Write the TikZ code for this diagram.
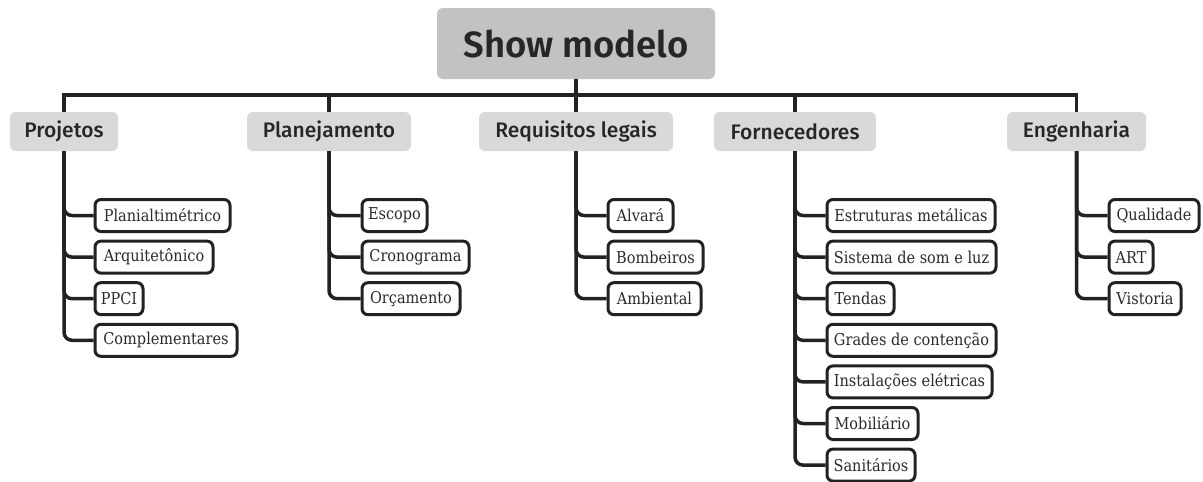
\documentclass[tikz,border=0pt]{standalone}
\usepackage{fontspec}
\newfontfamily\rootfont{Fira Sans}[UprightFont={* SemiBold}]
\newfontfamily\catfont{Fira Sans}[UprightFont={* Medium}]
\newfontfamily\leaffont{DejaVu Serif}[FakeStretch=0.89]
\definecolor{rootgray}{HTML}{C2C2C2}
\definecolor{catgray}{HTML}{D9D9D9}
\definecolor{inkdark}{HTML}{222222}
\definecolor{textdark}{HTML}{262626}
\definecolor{leaftext}{HTML}{2A2A2A}
\tikzset{
  rootbox/.style={fill=rootgray, rounded corners=6pt, minimum width=278pt,
    minimum height=71pt, text=textdark,
    font=\rootfont\fontsize{36.5}{42}\selectfont},
  catbox/.style={fill=catgray, rounded corners=6pt, minimum height=39pt,
    text=textdark, font=\catfont\fontsize{21}{25}\selectfont},
  leafbox/.style={draw=inkdark, line width=3pt, fill=white, rounded corners=6pt,
    minimum height=32pt, anchor=west, inner xsep=2pt, text=leaftext,
    font=\leaffont\fontsize{16.3}{19}\selectfont},
  link/.style={draw=inkdark, line width=3.5pt},
  branch/.style={link, rounded corners=8pt},
}
% leaf node: name, left edge, right edge, centre y, label
\newcommand\leafnode[5]{%
  \pgfmathsetmacro\lw{#3-#2-3}%
  \node[leafbox, minimum width=\lw pt] (#1) at (#2+1.5,#4) {#5};}
\begin{document}
\begin{tikzpicture}[x=1pt,y=-1pt]
\useasboundingbox (0,0) rectangle (1203,482);
\fill[white] (0,0) rectangle (1203,482);

% root and first level
\node[rootbox] (root) at (576,43.5) {Show modelo};
\node[catbox, minimum width=108pt] (proj) at (64,131.5) {Projetos};
\node[catbox, minimum width=164pt] (plan) at (329,131.5) {Planejamento};
\node[catbox, minimum width=194pt] (req)  at (576,131.5) {Requisitos legais};
\node[catbox, minimum width=162pt] (forn) at (795,131.5) {Fornecedores};
\node[catbox, minimum width=139pt] (eng)  at (1076.5,131.5) {Engenharia};
\coordinate (bus) at (0,95);

% Projetos
\leafnode{p1}{92}{230}{215.5}{Planialtimétrico}
\leafnode{p2}{92}{213}{257.1}{Arquitetônico}
\leafnode{p3}{92}{143}{298.7}{PPCI}
\leafnode{p4}{92}{237}{340.3}{Complementares}
% Planejamento
\leafnode{l1}{359}{427}{215.5}{Escopo}
\leafnode{l2}{359}{469}{257.1}{Cronograma}
\leafnode{l3}{359}{460}{298.7}{Orçamento}
% Requisitos legais
\leafnode{r1}{605}{673}{215.5}{Alvará}
\leafnode{r2}{605}{703}{257.1}{Bombeiros}
\leafnode{r3}{605}{701}{298.7}{Ambiental}
% Fornecedores
\leafnode{f1}{824}{995}{215.5}{Estruturas metálicas}
\leafnode{f2}{824}{996}{257.1}{Sistema de som e luz}
\leafnode{f3}{824}{894}{298.7}{Tendas}
\leafnode{f4}{824}{996}{340.3}{Grades de contenção}
\leafnode{f5}{824}{992}{381.9}{Instalações elétricas}
\leafnode{f6}{824}{918}{423.5}{Mobiliário}
\leafnode{f7}{824}{915}{465.1}{Sanitários}
% Engenharia
\leafnode{e1}{1106}{1199}{215.5}{Qualidade}
\leafnode{e2}{1106}{1153}{257.1}{ART}
\leafnode{e3}{1106}{1181}{298.7}{Vistoria}

% top bus
\draw[link] (proj.north) -- (proj.north |- bus) -| (eng.north);
\draw[link] (root.south) -- (req.north);
\draw[link] (plan.north) -- (plan.north |- bus);
\draw[link] (forn.north) -- (forn.north |- bus);

% branches to the leaves
\foreach \c/\l in {proj/p1,proj/p2,proj/p3,proj/p4,
                   plan/l1,plan/l2,plan/l3,
                   req/r1,req/r2,req/r3,
                   forn/f1,forn/f2,forn/f3,forn/f4,forn/f5,forn/f6,forn/f7,
                   eng/e1,eng/e2,eng/e3}
  \draw[branch] (\c.south) |- (\l.west);
\end{tikzpicture}
\end{document}
